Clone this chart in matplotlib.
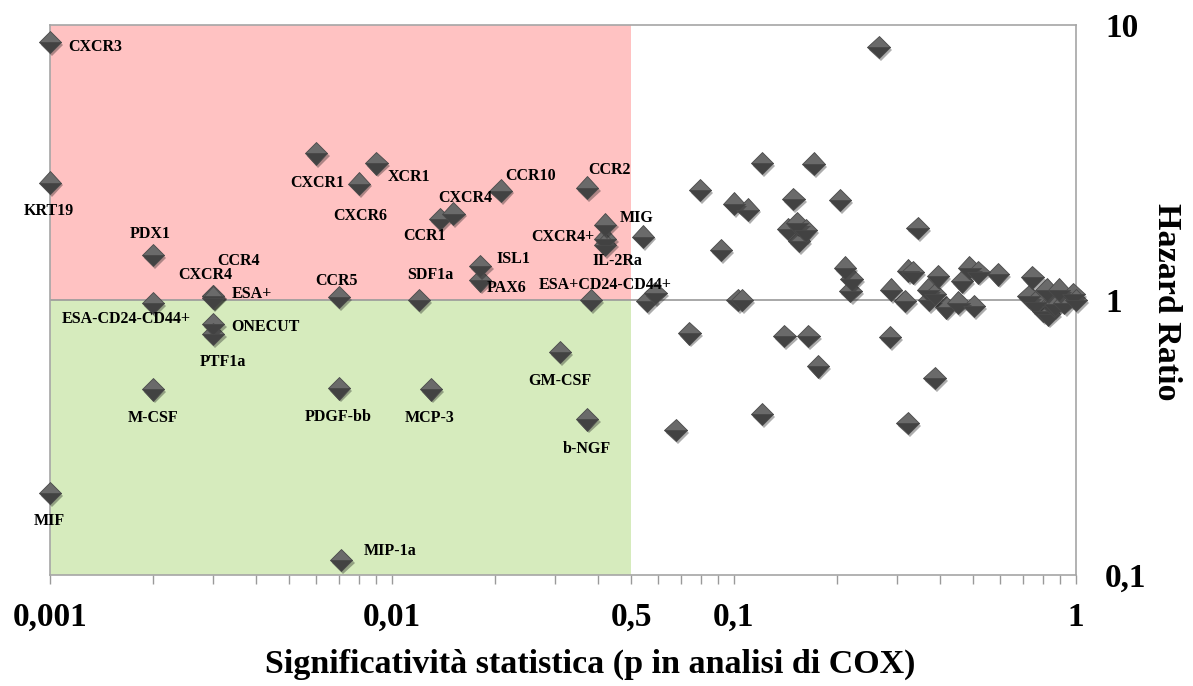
import matplotlib
matplotlib.use("Agg")
import matplotlib.pyplot as plt
import matplotlib.patheffects as pe
from matplotlib.ticker import FixedLocator, NullFormatter

plt.rcParams['font.family'] = ['Liberation Serif', 'DejaVu Serif']
plt.rcParams['font.weight'] = 'bold'

# labelled markers (p value, hazard ratio, name)
names = ["CXCR3", "KRT19", "MIF", "PDX1", "ESA-CD24-CD44+", "CCR4", "CXCR4", "ESA+",
         "ONECUT", "PTF1a", "M-CSF", "CXCR1", "CXCR6", "XCR1", "CCR5", "PDGF-bb",
         "MIP-1a", "SDF1a", "MCP-3", "CCR1", "CXCR4", "ISL1", "PAX6", "CCR10",
         "GM-CSF", "CCR2", "ESA+CD24-CD44+", "b-NGF", "MIG", "CXCR4+", "IL-2Ra"]
p_lab = [0.001, 0.001, 0.001, 0.002, 0.002, 0.003, 0.003, 0.003,
         0.003, 0.003, 0.002, 0.006, 0.008, 0.009, 0.007, 0.007,
         0.0071, 0.012, 0.013, 0.0138, 0.0151, 0.0181, 0.0181, 0.0208,
         0.031, 0.0372, 0.0382, 0.0372, 0.042, 0.042, 0.042]
hr_lab = [8.67, 2.67, 0.199, 1.46, 0.975, 1.03, 1.03, 1.02,
          0.817, 0.751, 0.473, 3.41, 2.65, 3.14, 1.025, 0.477,
          0.1135, 1.0, 0.473, 1.97, 2.06, 1.33, 1.18, 2.50,
          0.646, 2.56, 1.0, 0.368, 1.88, 1.67, 1.59]
# label offsets in pixels from the marker
lab_dx = [45, -1, -1, -3, -27, 25, -8, 39,
          52, 10, 0, 1, 1, 33, -3, -1,
          49, 11, -1, -15, 12, 33, 26, 30,
          0, 22, 14, 0, 32, -42, 12]
lab_dy = [-5, -28, -28, 21, -16, 35, 21, 4,
          -3, -28, -29, -30, -32, -14, 16, -29,
          9, 25, -29, -17, 16, 7, -8, 15,
          -29, 18, 15, -30, 7, 2, -16]

# markers without label
p_other = [0.0542, 0.0557, 0.0589, 0.0675, 0.0740, 0.0796, 0.0915, 0.100, 0.1025, 0.1056,
           0.1097, 0.1208, 0.1208, 0.1404, 0.144, 0.149, 0.153, 0.155, 0.162, 0.165,
           0.171, 0.176, 0.204, 0.211, 0.219, 0.221, 0.2646, 0.286, 0.288, 0.316,
           0.322, 0.323, 0.333, 0.344, 0.369, 0.372, 0.386, 0.387, 0.395, 0.417,
           0.453, 0.464, 0.488, 0.503, 0.518, 0.591, 0.727, 0.745, 0.76, 0.80,
           0.83, 0.82, 0.86, 0.87, 0.892, 0.925, 0.982, 1.0]
hr_other = [1.70, 0.99, 1.06, 0.337, 0.756, 2.51, 1.52, 2.24, 1.0, 1.0,
            2.13, 3.15, 0.385, 0.739, 1.81, 2.33, 1.90, 1.64, 1.79, 0.739,
            3.13, 0.574, 2.31, 1.31, 1.08, 1.19, 8.33, 0.733, 1.09, 0.99,
            0.357, 1.28, 1.26, 1.83, 1.09, 1.0, 0.520, 1.05, 1.22, 0.94,
            0.978, 1.17, 1.31, 0.95, 1.26, 1.24, 1.03, 1.21, 0.98, 0.912,
            0.887, 1.09, 0.95, 0.965, 1.09, 0.978, 1.05, 1.0]

x_ticks = [0.001, 0.01, 0.05, 0.1, 1]
x_ticklabels = ["0,001", "0,01", "0,5", "0,1", "1"]
y_ticks = [0.1, 1, 10]
y_ticklabels = ["0,1", "1", "10"]

fig = plt.figure(figsize=(11.93, 6.86), dpi=100)
ax = fig.add_axes([50/1193, 1-575/686, 1026/1193, 550/686])
ax.set_xscale('log')
ax.set_yscale('log')
ax.set_xlim(0.001, 1)
ax.set_ylim(0.1, 10)

# coloured areas
ax.fill_between([0.001, 0.05], 1, 10, color='#ffc2c2', lw=0, zorder=0)
ax.fill_between([0.001, 0.05], 0.1, 1, color='#d6ebbd', lw=0, zorder=0)
ax.axhline(1, color='#9a9a9a', lw=1.2, zorder=1)

shadow = [pe.SimplePatchShadow(offset=(1.5, -2), alpha=0.35), pe.Normal()]
mk = dict(marker='D', ms=11.5, linestyle='none', fillstyle='top',
          markerfacecolor='#6a6a6a', markerfacecoloralt='#424242',
          markeredgecolor='#4a4a4a', markeredgewidth=0.6, clip_on=False, zorder=3)
ax.plot(p_other, hr_other, path_effects=shadow, **mk)
ax.plot(p_lab, hr_lab, path_effects=shadow, **mk)

for i in range(len(names)):
    ax.annotate(names[i], (p_lab[i], hr_lab[i]), xytext=(lab_dx[i], lab_dy[i]),
                textcoords='offset pixels', ha='center', va='center',
                fontsize=11.5, fontweight='bold', color='black', zorder=4)

ax.xaxis.set_major_locator(FixedLocator(x_ticks))
ax.set_xticklabels(x_ticklabels)
minors = [a*b for b in [0.001, 0.01, 0.1] for a in range(2, 10)]
ax.xaxis.set_minor_locator(FixedLocator(minors))
ax.xaxis.set_minor_formatter(NullFormatter())
ax.tick_params(axis='x', which='both', direction='out', length=6.5, width=1,
               color='#9a9a9a', pad=13, labelsize=24)

ax.yaxis.tick_right()
ax.yaxis.set_major_locator(FixedLocator(y_ticks))
ax.set_yticklabels(y_ticklabels)
ax.yaxis.set_minor_formatter(NullFormatter())
ax.tick_params(axis='y', which='both', length=0, pad=21, labelsize=24)

for s in ax.spines.values():
    s.set_color('#a6a6a6')
    s.set_linewidth(1.2)

fig.text(590/1193, 1-664/686, "Significatività statistica (p in analisi di COX)",
         ha='center', va='center', fontsize=24.5, fontweight='bold')
fig.text(1167/1193, 1-302/686, "Hazard Ratio", rotation=270,
         ha='center', va='center', fontsize=24.5, fontweight='bold')

fig.savefig("out.png", dpi=100)
